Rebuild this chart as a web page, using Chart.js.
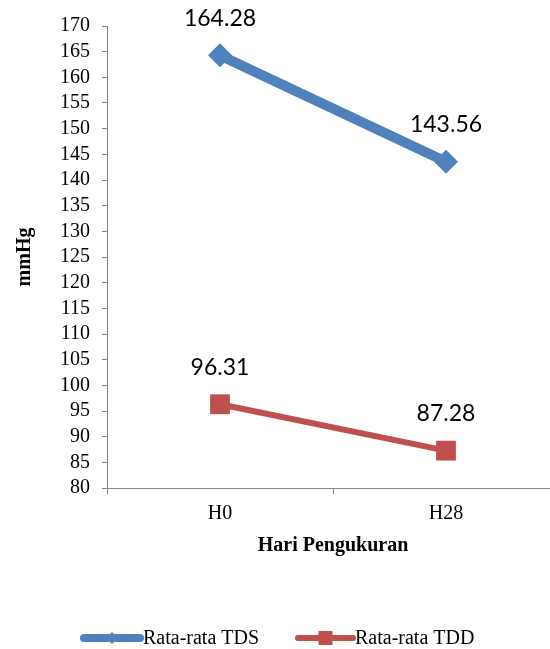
<!DOCTYPE html>
<html lang="id">
<head>
    <meta charset="UTF-8">
    <title>Rata-rata TDS dan TDD</title>
    <style>
        body {
            margin: 0;
            padding: 0;
            background: #ffffff;
            overflow: hidden;
        }
        /* the original plot runs a little past the right edge, so the canvas is wider and clipped */
        .wrap {
            width: 550px;
            height: 649px;
            overflow: hidden;
        }
    </style>
    <script src="https://cdn.jsdelivr.net/npm/chart.js"></script>
</head>
<body>
    <div class="wrap">
        <canvas id="lineChart" width="573" height="649"></canvas>
    </div>

    <script>
        // Data
        const categories = ['H0', 'H28'];
        const tdsValues = [164.28, 143.56];
        const tddValues = [96.31, 87.28];
        const seriesNames = ['Rata-rata TDS', 'Rata-rata TDD'];
        const yMin = 80;
        const yMax = 170;
        const yStep = 5;

        const blue = '#4F81BD';
        const red = '#C0504D';
        const axisGray = '#868686';
        const serif = "'Liberation Serif', 'Times New Roman', serif";

        // value labels above each point
        const valueLabels = {
            id: 'valueLabels',
            afterDatasetsDraw(chart) {
                const ctx = chart.ctx;
                ctx.save();
                ctx.font = "23px Lato, 'Liberation Sans', sans-serif";
                ctx.fillStyle = '#000';
                ctx.textAlign = 'center';
                ctx.textBaseline = 'middle';
                chart.data.datasets.forEach((ds, i) => {
                    chart.getDatasetMeta(i).data.forEach((pt, j) => {
                        ctx.fillText(ds.data[j].toFixed(2), pt.x, pt.y - 37);
                    });
                });
                ctx.restore();
            }
        };

        // legend with line + marker icons, like the original
        const lineLegend = {
            id: 'lineLegend',
            afterDraw(chart) {
                const ctx = chart.ctx;
                const y = 638;
                const items = [
                    { x0: 84, x1: 140, color: blue, marker: 'diamond', tx: 143 },
                    { x0: 298, x1: 353, color: red, marker: 'square', tx: 355 }
                ];
                ctx.save();
                items.forEach((it, i) => {
                    ctx.strokeStyle = it.color;
                    ctx.fillStyle = it.color;
                    ctx.lineWidth = i === 0 ? 8 : 6;
                    ctx.lineCap = 'round';
                    ctx.beginPath();
                    ctx.moveTo(it.x0, y);
                    ctx.lineTo(it.x1, y);
                    ctx.stroke();
                    const cx = (it.x0 + it.x1) / 2;
                    ctx.beginPath();
                    if (it.marker === 'diamond') {
                        ctx.moveTo(cx - 6, y);
                        ctx.lineTo(cx, y - 6);
                        ctx.lineTo(cx + 6, y);
                        ctx.lineTo(cx, y + 6);
                        ctx.closePath();
                    } else {
                        ctx.rect(cx - 7, y - 7, 14, 14);
                    }
                    ctx.fill();
                    ctx.fillStyle = '#000';
                    ctx.font = '20px ' + serif;
                    ctx.textAlign = 'left';
                    ctx.textBaseline = 'middle';
                    ctx.fillText(seriesNames[i], it.tx, y + 1);
                });
                ctx.restore();
            }
        };

        const config = {
            type: 'line',
            data: {
                labels: categories,
                datasets: [
                    {
                        label: seriesNames[0],
                        data: tdsValues,
                        borderColor: blue,
                        backgroundColor: blue,
                        borderWidth: 10,
                        pointStyle: 'rectRot',
                        pointRadius: 12,
                        pointHoverRadius: 12,
                        pointBorderWidth: 0,
                        tension: 0,
                        clip: false
                    },
                    {
                        label: seriesNames[1],
                        data: tddValues,
                        borderColor: red,
                        backgroundColor: red,
                        borderWidth: 6,
                        pointStyle: 'rect',
                        pointRadius: 14,
                        pointHoverRadius: 14,
                        pointBorderWidth: 0,
                        tension: 0,
                        clip: false
                    }
                ]
            },
            options: {
                responsive: false,
                animation: false,
                layout: {
                    padding: { top: 26, right: 0, bottom: 81, left: 0 }
                },
                plugins: {
                    legend: { display: false },
                    tooltip: { enabled: false }
                },
                scales: {
                    x: {
                        offset: true,
                        afterFit(scale) { scale.height = 80; },
                        grid: {
                            display: true,
                            offset: true,
                            drawOnChartArea: false,
                            tickLength: 6,
                            color: axisGray
                        },
                        border: { display: true, color: axisGray, width: 1 },
                        ticks: {
                            color: '#000',
                            padding: 8,
                            font: { family: serif, size: 20 }
                        },
                        title: {
                            display: true,
                            text: 'Hari Pengukuran',
                            color: '#000',
                            padding: { top: 0, bottom: 10 },
                            font: { family: serif, size: 20, weight: 'bold' }
                        }
                    },
                    y: {
                        min: yMin,
                        max: yMax,
                        afterFit(scale) { scale.width = 107; },
                        grid: {
                            display: true,
                            drawOnChartArea: false,
                            tickLength: 5,
                            color: axisGray
                        },
                        border: { display: true, color: axisGray, width: 1 },
                        ticks: {
                            stepSize: yStep,
                            autoSkip: false,
                            color: '#000',
                            padding: 12,
                            font: { family: serif, size: 20 }
                        },
                        title: {
                            display: true,
                            text: 'mmHg',
                            color: '#000',
                            padding: { top: 13, bottom: 0 },
                            font: { family: serif, size: 20, weight: 'bold' }
                        }
                    }
                }
            },
            plugins: [valueLabels, lineLegend]
        };

        const lineChart = new Chart(document.getElementById('lineChart'), config);
    </script>
</body>
</html>
